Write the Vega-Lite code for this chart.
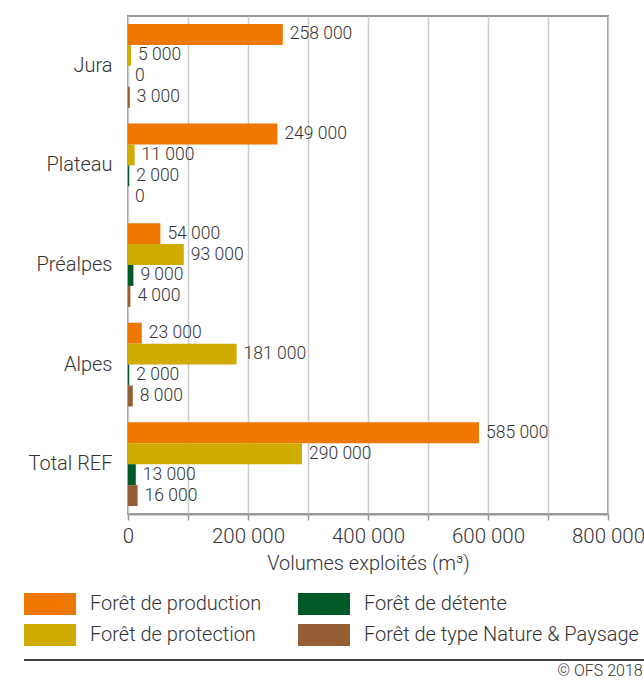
{
  "$schema": "https://vega.github.io/schema/vega-lite/v6.json",
  "padding": {"left": 23, "top": 15, "right": 0, "bottom": 0},
  "background": "white",
  "config": {
    "locale": {"number": {"decimal": ",", "thousands": " ", "grouping": [3], "currency": ["", " CHF"]}},
    "font": "Roboto",
    "view": {"stroke": "#9a9a9a", "strokeWidth": 2},
    "text": {"font": "Roboto"},
    "concat": {"spacing": 84}
  },
  "vconcat": [
    {
      "width": 480,
      "height": 498,
      "data": {"values": [
        {"region": "Jura", "type": "Forêt de production", "value": 258000},
        {"region": "Jura", "type": "Forêt de protection", "value": 5000},
        {"region": "Jura", "type": "Forêt de détente", "value": 0},
        {"region": "Jura", "type": "Forêt de type Nature & Paysage", "value": 3000},
        {"region": "Plateau", "type": "Forêt de production", "value": 249000},
        {"region": "Plateau", "type": "Forêt de protection", "value": 11000},
        {"region": "Plateau", "type": "Forêt de détente", "value": 2000},
        {"region": "Plateau", "type": "Forêt de type Nature & Paysage", "value": 0},
        {"region": "Préalpes", "type": "Forêt de production", "value": 54000},
        {"region": "Préalpes", "type": "Forêt de protection", "value": 93000},
        {"region": "Préalpes", "type": "Forêt de détente", "value": 9000},
        {"region": "Préalpes", "type": "Forêt de type Nature & Paysage", "value": 4000},
        {"region": "Alpes", "type": "Forêt de production", "value": 23000},
        {"region": "Alpes", "type": "Forêt de protection", "value": 181000},
        {"region": "Alpes", "type": "Forêt de détente", "value": 2000},
        {"region": "Alpes", "type": "Forêt de type Nature & Paysage", "value": 8000},
        {"region": "Total REF", "type": "Forêt de production", "value": 585000},
        {"region": "Total REF", "type": "Forêt de protection", "value": 290000},
        {"region": "Total REF", "type": "Forêt de détente", "value": 13000},
        {"region": "Total REF", "type": "Forêt de type Nature & Paysage", "value": 16000}
      ]},
      "encoding": {
        "y": {
          "field": "region", "type": "nominal",
          "sort": ["Jura", "Plateau", "Préalpes", "Alpes", "Total REF"],
          "scale": {"paddingInner": 0.16, "paddingOuter": 0.08},
          "axis": {"title": null, "ticks": false, "domain": false, "labelPadding": 16, "labelFontSize": 20, "labelFontWeight": 300, "labelColor": "#333", "labelFont": "Roboto"}
        },
        "yOffset": {
          "field": "type",
          "sort": ["Forêt de production", "Forêt de protection", "Forêt de détente", "Forêt de type Nature & Paysage"],
          "scale": {"paddingInner": 0, "paddingOuter": 0}
        },
        "x": {
          "field": "value", "type": "quantitative",
          "scale": {"domain": [0, 800000], "nice": false},
          "axis": {
            "title": "Volumes exploités (m³)",
            "values": [0, 100000, 200000, 300000, 400000, 500000, 600000, 700000, 800000],
            "format": ",d",
            "labelExpr": "datum.value % 200000 === 0 ? datum.label : ''",
            "labelFontSize": 20.5, "labelFontWeight": 300, "labelColor": "#333", "labelPadding": 6,
            "labelFlush": false,
            "tickSize": 6, "tickColor": "#9a9a9a", "tickWidth": 1.5,
            "domainColor": "#9a9a9a", "domainWidth": 2,
            "grid": true, "gridColor": "#cccccc", "gridWidth": 1.5,
            "titleFontSize": 20, "titleFontWeight": 300, "titleColor": "#333", "titlePadding": 7
          }
        }
      },
      "layer": [
        {
          "mark": {"type": "bar"},
          "encoding": {
            "color": {
              "field": "type", "type": "nominal",
              "scale": {
                "domain": ["Forêt de production", "Forêt de protection", "Forêt de détente", "Forêt de type Nature & Paysage"],
                "range": ["#ee7700", "#d0ac00", "#005a27", "#945d33"]
              },
              "legend": {
                "title": null,
                "orient": "none",
                "legendX": -104,
                "legendY": 577,
                "columns": 2,
                "direction": "vertical",
                "symbolType": "M-1,-0.42H1V0.42H-1Z",
                "symbolSize": 2704,
                "symbolStrokeWidth": 0,
                "symbolOpacity": 1,
                "clipHeight": 22,
                "rowPadding": 9,
                "columnPadding": 36,
                "labelOffset": 14,
                "labelFontSize": 20,
                "labelFontWeight": 300,
                "labelColor": "#333",
                "labelLimit": 400
              }
            }
          }
        },
        {
          "mark": {"type": "text", "align": "left", "baseline": "middle", "dx": 7, "fontSize": 17.5, "fontWeight": 300, "color": "#333"},
          "encoding": {"text": {"field": "value", "type": "quantitative", "format": ",d"}}
        }
      ]
    },
    {
      "width": 513,
      "height": 1,
      "view": {"stroke": null},
      "data": {"values": [{"start": -0.2027, "end": 1.0078, "level": 1}]},
      "title": {"text": "© OFS 2018", "orient": "bottom", "anchor": "end", "baseline": "alphabetic", "fontSize": 16, "fontWeight": 300, "color": "#333", "offset": 15, "dx": -3},
      "mark": {"type": "rule", "color": "#000", "strokeWidth": 1.5},
      "encoding": {
        "x": {"field": "start", "type": "quantitative", "scale": {"domain": [0, 1], "clamp": false, "nice": false, "zero": false}, "axis": null},
        "x2": {"field": "end"},
        "y": {"field": "level", "type": "quantitative", "scale": {"domain": [0, 1]}, "axis": null}
      }
    }
  ]
}
